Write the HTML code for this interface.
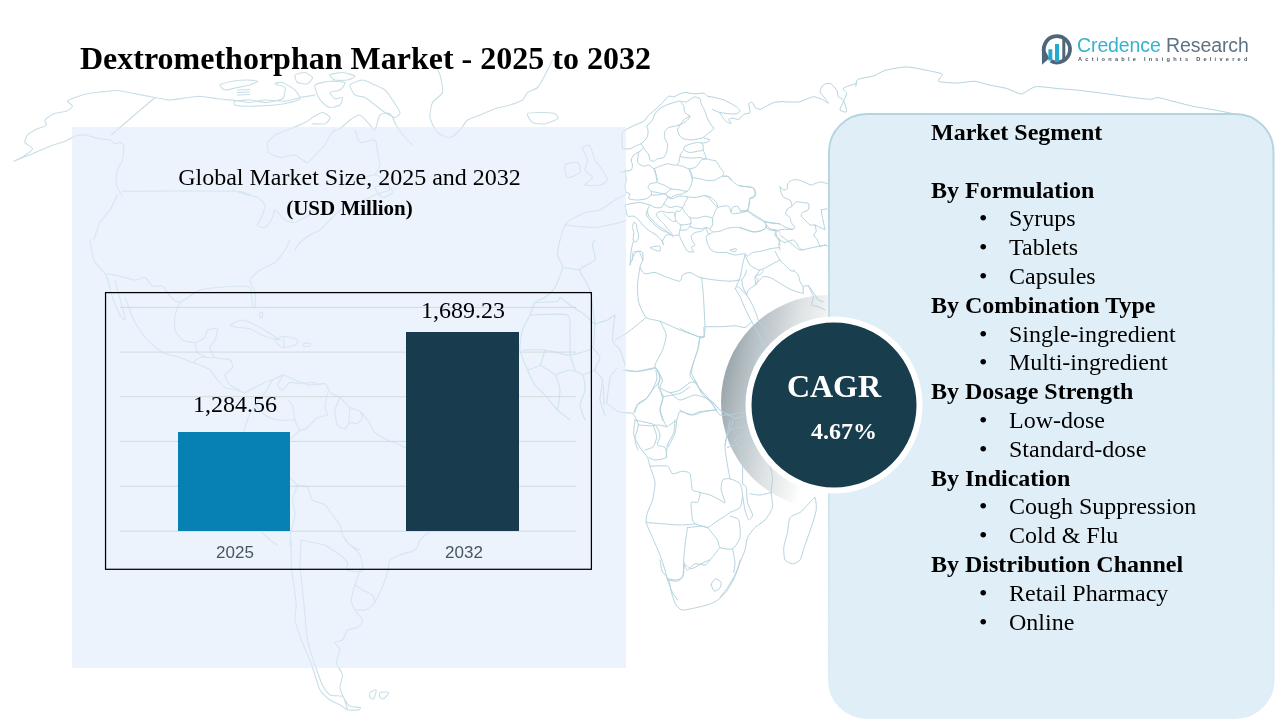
<!DOCTYPE html>
<html><head><meta charset="utf-8">
<style>
html,body{margin:0;padding:0;background:#fff;}
body{width:1280px;height:720px;overflow:hidden;position:relative;font-family:"Liberation Serif",serif;color:#000;}
.abs{position:absolute;}
div.abs{will-change:transform;}
#leftpanel{left:72px;top:127px;width:554px;height:541px;background:rgba(223,235,250,0.6);}
#title{left:80px;top:40px;font-weight:bold;font-size:32px;line-height:36px;white-space:nowrap;}
#sub1{left:72px;width:555px;top:163px;text-align:center;font-size:24px;line-height:28px;white-space:nowrap;}
#sub2{left:72px;width:555px;top:196px;text-align:center;font-size:21px;font-weight:bold;line-height:24px;white-space:nowrap;}
#chartbox{left:105px;top:292px;width:486px;height:276px;border:1px solid #000;box-sizing:content-box;}
.grid{left:120px;width:456px;height:1px;background:#d4dadd;}
.bar{}
.val{font-size:24px;line-height:24px;white-space:nowrap;text-align:center;width:140px;}
.cat{font-family:"Liberation Sans",sans-serif;font-size:17px;line-height:18px;color:#46565c;text-align:center;width:100px;white-space:nowrap;}
#seg{left:931px;top:118px;font-size:24px;line-height:28.8px;white-space:nowrap;}
#seg b{display:block;}
#seg span{display:block;padding-left:78px;position:relative;}
#seg span i{position:absolute;left:48px;font-style:normal;}
#cagr1{left:751px;width:166px;top:368px;text-align:center;color:#fff;font-weight:bold;font-size:32px;line-height:36px;}
#cagr2{left:761px;width:166px;top:418px;text-align:center;color:#fff;font-weight:bold;font-size:24px;line-height:26px;}
#lg1{left:1077px;top:32.5px;font-family:"Liberation Sans",sans-serif;font-size:19.5px;line-height:24px;letter-spacing:-0.1px;white-space:nowrap;}
#lg2{left:1078px;top:55px;font-family:"Liberation Sans",sans-serif;font-weight:bold;font-size:5.6px;line-height:8px;letter-spacing:3.25px;color:#4a5866;white-space:nowrap;}
</style></head><body>
<svg class="abs" id="map" style="left:0;top:0" width="1280" height="720" viewBox="0 0 1280 720" fill="none" stroke="#cfe2ea" stroke-width="1" stroke-linejoin="round" stroke-linecap="round">
<defs><linearGradient id="cres" gradientUnits="userSpaceOnUse" x1="721" y1="400" x2="816" y2="421"><stop offset="0" stop-color="#98a4aa" stop-opacity="0.95"/><stop offset="0.2" stop-color="#b1bbc0" stop-opacity="0.93"/><stop offset="0.45" stop-color="#c9d0d4" stop-opacity="0.9"/><stop offset="0.6" stop-color="#dadfe1" stop-opacity="0.88"/><stop offset="0.8" stop-color="#e9eced" stop-opacity="0.85"/><stop offset="0.93" stop-color="#f5f6f7" stop-opacity="0.8"/><stop offset="1" stop-color="#ffffff" stop-opacity="0.6"/></linearGradient><filter id="bl" x="-10%" y="-10%" width="120%" height="120%"><feGaussianBlur stdDeviation="0.6"/></filter></defs><circle cx="828" cy="402" r="107" stroke="none" fill="url(#cres)" filter="url(#bl)"/>
<!--MAP--><g stroke="#c8dee7" stroke-width="1.1"><path d="M13.8 161.2 C14.8 160.7 21.8 157.6 23.8 156.2 C25.8 154.9 32.4 150.2 32.5 148.8 C32.6 147.3 25.5 144.0 25.0 142.5 C24.5 141.0 26.2 136.5 27.5 135.0 C28.8 133.5 35.5 129.8 37.5 128.8 C39.5 127.7 45.5 126.4 46.2 125.5 C47.0 124.6 44.2 121.3 45.0 120.0 C45.8 118.7 51.5 114.7 53.8 113.8 C56.0 112.8 64.2 112.0 66.2 111.2 C68.2 110.5 72.4 107.3 72.5 106.2 C72.6 105.2 67.2 102.2 67.5 101.2 C67.8 100.3 72.9 98.3 75.0 97.5 C77.1 96.7 84.8 94.3 87.5 93.8 C90.2 93.2 96.8 92.3 100.0 92.0 C103.2 91.7 113.8 90.3 117.5 90.5 C121.2 90.7 131.0 93.0 135.0 93.8 C139.0 94.5 151.3 96.8 155.0 97.5 C158.7 98.2 166.8 99.9 170.0 100.0 C173.2 100.1 181.8 98.4 185.0 98.0 C188.2 97.6 196.5 96.2 200.0 96.2 C203.5 96.3 213.8 98.3 217.5 98.8 C221.2 99.2 231.5 100.1 235.0 100.5 C238.5 100.9 246.8 102.6 250.0 102.5 C253.2 102.4 261.3 100.1 265.0 100.0 C268.7 99.9 281.3 101.5 285.0 101.2 C288.7 101.0 296.8 98.2 300.0 97.5 C303.2 96.8 313.4 95.3 315.0 95.0 M13.8 161.2 C15.8 160.4 28.6 155.3 32.5 153.8 C36.4 152.2 46.5 147.6 50.0 146.2 C53.5 144.9 62.3 142.3 65.0 141.2 C67.7 140.2 72.9 136.9 75.0 136.2 C77.1 135.6 82.3 134.7 85.0 135.0 C87.7 135.3 97.3 138.2 100.0 138.8 C102.7 139.3 108.4 139.5 110.0 140.0 C111.6 140.5 113.9 143.5 115.0 143.8 C116.1 144.0 119.1 142.2 120.0 142.5 C120.9 142.8 123.5 144.4 123.8 146.2 C124.0 148.1 123.2 157.5 122.5 160.0 C121.8 162.5 118.2 167.3 117.5 170.0 C116.8 172.7 115.7 182.2 116.2 185.0 C116.8 187.8 121.8 195.1 122.5 196.2 M155.0 97.5 L111.2 135.0 M122.5 191.2 C134.5 191.2 221.4 190.8 235.0 191.2 C248.6 191.7 248.4 194.6 250.0 195.0 M117.5 195.0 C116.7 196.6 111.9 207.1 110.0 210.0 C108.1 212.9 101.7 219.3 100.0 222.5 C98.3 225.7 94.4 238.1 93.8 240.0 M220.0 85.0 C220.8 84.1 229.6 81.8 232.5 81.2 C235.4 80.7 244.8 80.0 247.5 80.0 C250.2 80.0 257.2 80.7 257.5 81.2 C257.8 81.8 252.1 84.3 250.0 85.0 C247.9 85.7 240.2 87.0 237.5 87.5 C234.8 88.0 226.9 90.3 225.0 90.0 C223.1 89.7 219.2 85.9 220.0 85.0 M235.0 101.2 C236.6 100.7 246.8 99.9 250.0 100.0 C253.2 100.1 261.5 102.6 265.0 102.5 C268.5 102.4 280.4 100.3 282.5 98.8 C284.6 97.2 285.8 89.1 285.0 87.5 C284.2 85.9 275.3 84.3 275.0 83.8 C274.7 83.2 280.4 81.8 282.5 82.5 C284.6 83.2 293.1 88.3 295.0 90.0 C296.9 91.7 300.5 97.4 300.0 98.8 C299.5 100.1 292.7 101.8 290.0 102.5 C287.3 103.2 279.3 104.6 275.0 105.0 C270.7 105.4 254.3 106.2 250.0 106.2 C245.7 106.2 236.6 105.5 235.0 105.0 C233.4 104.5 233.4 101.8 235.0 101.2 M237.5 90.0 L250.0 89.5 M237.5 92.5 L250.0 92.0 M237.5 95.0 L250.0 94.5 M315.0 85.0 C316.3 83.5 326.8 81.5 330.0 81.2 C333.2 81.0 343.9 81.6 345.0 82.5 C346.1 83.4 341.6 88.9 340.0 90.0 C338.4 91.1 330.5 91.6 330.0 92.5 C329.5 93.4 333.7 98.2 335.0 98.8 C336.3 99.3 342.0 96.8 342.5 97.5 C343.0 98.2 341.3 103.9 340.0 105.0 C338.7 106.1 331.9 107.8 330.0 107.5 C328.1 107.2 323.8 103.8 322.5 102.5 C321.2 101.2 318.3 96.9 317.5 95.0 C316.7 93.1 313.7 86.5 315.0 85.0 M350.0 85.0 C350.8 83.4 359.8 80.0 362.5 80.0 C365.2 80.0 372.6 83.9 375.0 85.0 C377.4 86.1 383.1 88.4 385.0 90.0 C386.9 91.6 390.9 97.6 392.5 100.0 C394.1 102.4 399.7 110.6 400.0 112.5 C400.3 114.4 396.6 117.5 395.0 117.5 C393.4 117.5 387.1 113.8 385.0 112.5 C382.9 111.2 377.1 106.6 375.0 105.0 C372.9 103.4 367.1 98.6 365.0 97.5 C362.9 96.4 356.6 96.3 355.0 95.0 C353.4 93.7 349.2 86.6 350.0 85.0 M295.0 75.0 C295.8 73.9 303.1 72.2 305.0 72.5 C306.9 72.8 312.2 76.3 312.5 77.5 C312.8 78.7 309.1 83.2 307.5 83.8 C305.9 84.3 298.8 83.4 297.5 82.5 C296.2 81.6 294.2 76.1 295.0 75.0 M330.0 75.0 C330.8 74.2 339.8 72.4 342.5 72.5 C345.2 72.6 354.5 75.5 355.0 76.2 C355.5 77.0 349.6 79.6 347.5 80.0 C345.4 80.4 336.9 80.5 335.0 80.0 C333.1 79.5 329.2 75.8 330.0 75.0 M267.5 142.5 C268.3 141.7 272.9 136.3 275.0 135.0 C277.1 133.7 284.3 131.3 287.5 130.0 C290.7 128.7 302.3 123.8 305.0 122.5 C307.7 121.2 310.6 118.6 312.5 117.5 C314.4 116.4 320.6 112.5 322.5 112.5 C324.4 112.5 329.7 116.3 330.0 117.5 C330.3 118.7 326.9 123.1 325.0 123.8 C323.1 124.4 313.8 123.8 312.5 123.8 M267.5 142.5 C267.6 143.6 267.4 150.9 268.8 152.5 C270.1 154.1 277.2 157.2 280.0 157.5 C282.8 157.8 292.1 154.5 295.0 155.0 C297.9 155.5 305.1 162.8 307.5 162.5 C309.9 162.2 315.6 154.4 317.5 152.5 C319.4 150.6 323.7 146.9 325.0 145.0 C326.3 143.1 328.9 136.6 330.0 135.0 C331.1 133.4 333.9 130.7 335.0 130.0 C336.1 129.3 338.4 129.8 340.0 128.8 C341.6 127.7 347.9 121.5 350.0 120.0 C352.1 118.5 357.9 114.5 360.0 115.0 C362.1 115.5 368.4 123.4 370.0 125.0 C371.6 126.6 373.9 131.1 375.0 130.0 C376.1 128.9 378.4 116.7 380.0 115.0 C381.6 113.3 388.1 112.4 390.0 113.8 C391.9 115.1 395.9 125.0 397.5 127.5 C399.1 130.0 403.4 135.6 405.0 137.5 C406.6 139.4 411.7 144.2 412.5 145.0 M355.0 130.0 C355.5 131.3 357.9 141.4 360.0 142.5 C362.1 143.6 373.1 138.9 375.0 140.0 C376.9 141.1 377.0 149.8 377.5 152.5 C378.0 155.2 380.3 162.6 380.0 165.0 C379.7 167.4 375.5 173.9 375.0 175.0 M232.5 190.0 C234.1 190.5 244.8 194.2 247.5 195.0 C250.2 195.8 255.6 196.4 257.5 197.5 C259.4 198.6 264.5 203.1 265.0 205.0 C265.5 206.9 263.3 212.9 262.5 215.0 C261.7 217.1 257.2 223.7 257.5 225.0 C257.8 226.3 263.4 228.3 265.0 227.5 C266.6 226.7 271.4 219.4 272.5 217.5 C273.6 215.6 273.7 209.7 275.0 210.0 C276.3 210.3 282.9 218.7 285.0 220.0 C287.1 221.3 292.9 222.8 295.0 222.5 C297.1 222.2 302.6 218.8 305.0 217.5 C307.4 216.2 316.2 210.8 317.5 210.0 M390.0 190.0 C388.4 190.5 378.2 193.7 375.0 195.0 C371.8 196.3 362.7 201.4 360.0 202.5 C357.3 203.6 352.1 204.2 350.0 205.0 C347.9 205.8 342.1 208.4 340.0 210.0 C337.9 211.6 332.1 217.9 330.0 220.0 C327.9 222.1 322.1 228.4 320.0 230.0 C317.9 231.6 312.1 233.7 310.0 235.0 C307.9 236.3 301.6 240.9 300.0 242.5 C298.4 244.1 295.5 249.2 295.0 250.0 M375.0 187.5 C375.5 186.2 385.6 184.5 387.5 185.0 C389.4 185.5 393.0 191.2 392.5 192.5 C392.0 193.8 384.4 198.0 382.5 197.5 C380.6 197.0 374.5 188.8 375.0 187.5 M340.0 187.5 C341.1 186.7 347.6 181.1 350.0 180.0 C352.4 178.9 359.8 178.0 362.5 177.5 C365.2 177.0 372.6 174.7 375.0 175.0 C377.4 175.3 383.4 178.4 385.0 180.0 C386.6 181.6 389.5 188.9 390.0 190.0 M432.5 60.0 C433.3 61.6 438.9 71.5 440.0 75.0 C441.1 78.5 443.3 89.6 442.5 92.5 C441.7 95.4 433.8 99.8 432.5 102.5 C431.2 105.2 429.5 114.3 430.0 117.5 C430.5 120.7 435.4 130.4 437.5 132.5 C439.6 134.6 447.6 137.8 450.0 137.5 C452.4 137.2 458.1 131.9 460.0 130.0 C461.9 128.1 465.4 121.6 467.5 120.0 C469.6 118.4 477.1 116.2 480.0 115.0 C482.9 113.8 491.8 109.8 495.0 108.8 C498.2 107.7 507.1 105.9 510.0 105.0 C512.9 104.1 520.6 101.3 522.5 100.0 C524.4 98.7 525.9 93.8 527.5 92.5 C529.1 91.2 535.6 89.4 537.5 87.5 C539.4 85.6 543.7 77.4 545.0 75.0 C546.3 72.6 549.2 66.6 550.0 65.0 C550.8 63.4 552.2 60.5 552.5 60.0 M527.5 113.8 C528.3 112.7 537.1 112.5 540.0 112.5 C542.9 112.5 553.1 113.1 555.0 113.8 C556.9 114.4 558.6 117.7 557.5 118.8 C556.4 119.8 547.7 123.3 545.0 123.8 C542.3 124.2 534.4 123.6 532.5 122.5 C530.6 121.4 526.7 114.8 527.5 113.8 M582.5 147.5 C582.8 146.0 588.7 144.9 590.0 146.2 C591.3 147.6 593.7 157.5 595.0 160.0 C596.3 162.5 601.2 167.9 602.5 170.0 C603.8 172.1 607.8 178.4 607.5 180.0 C607.2 181.6 602.4 184.5 600.0 185.0 C597.6 185.5 585.8 185.8 585.0 185.0 C584.2 184.2 592.5 179.1 592.5 177.5 C592.5 175.9 585.5 171.9 585.0 170.0 C584.5 168.1 587.8 162.4 587.5 160.0 C587.2 157.6 582.2 149.0 582.5 147.5 M565.0 165.0 C566.1 163.4 575.9 161.7 577.5 162.5 C579.1 163.3 581.1 170.9 580.0 172.5 C578.9 174.1 569.1 178.3 567.5 177.5 C565.9 176.7 563.9 166.6 565.0 165.0 M570.0 220.0 C571.6 219.2 581.8 213.6 585.0 212.5 C588.2 211.4 596.8 211.3 600.0 210.0 C603.2 208.7 612.3 201.6 615.0 200.0 C617.7 198.4 623.9 195.5 625.0 195.0 M560.0 240.0 C560.5 238.4 563.9 227.1 565.0 225.0 C566.1 222.9 569.5 220.5 570.0 220.0 M565.0 225.0 C568.2 225.3 589.1 227.8 595.0 227.5 C600.9 227.2 616.7 223.3 620.0 222.5 C623.3 221.7 625.6 220.3 626.2 220.0 M90.0 240.0 C90.4 242.1 92.2 256.4 93.8 260.0 C95.3 263.6 103.3 270.8 105.0 273.8 C106.7 276.7 109.5 286.0 110.0 287.5 M105.0 273.8 C106.6 274.0 116.8 275.6 120.0 276.2 C123.2 276.9 132.3 279.9 135.0 280.0 C137.7 280.1 143.1 276.8 145.0 277.5 C146.9 278.2 150.6 285.3 152.5 286.2 C154.4 287.2 160.4 284.9 162.5 286.2 C164.6 287.6 170.6 297.0 172.5 298.8 C174.4 300.5 179.2 302.1 180.0 302.5 M107.5 277.5 C108.0 279.6 111.2 293.5 112.5 297.5 C113.8 301.5 118.7 312.6 120.0 315.0 C121.3 317.4 124.7 320.8 125.0 320.0 C125.3 319.2 123.3 310.7 122.5 307.5 C121.7 304.3 118.3 292.9 117.5 290.0 C116.7 287.1 115.3 281.1 115.0 280.0 M125.0 297.5 C126.1 300.2 132.6 318.0 135.0 322.5 C137.4 327.0 144.6 336.8 147.5 340.0 C150.4 343.2 159.0 350.6 162.5 352.5 C166.0 354.4 176.8 356.4 180.0 357.5 C183.2 358.6 190.4 361.7 192.5 362.5 C194.6 363.3 198.1 364.2 200.0 365.0 C201.9 365.8 208.1 368.4 210.0 370.0 C211.9 371.6 215.9 378.1 217.5 380.0 C219.1 381.9 223.1 386.4 225.0 387.5 C226.9 388.6 232.9 389.5 235.0 390.0 C237.1 390.5 242.9 392.8 245.0 392.5 C247.1 392.2 253.9 388.0 255.0 387.5 M180.0 302.5 C179.5 303.8 175.5 312.1 175.0 315.0 C174.5 317.9 174.2 327.3 175.0 330.0 C175.8 332.7 180.4 338.7 182.5 340.0 C184.6 341.3 192.6 342.8 195.0 342.5 C197.4 342.2 203.7 338.8 205.0 337.5 C206.3 336.2 206.2 330.9 207.5 330.0 C208.8 329.1 216.7 327.7 217.5 328.8 C218.3 329.8 215.8 338.0 215.0 340.0 C214.2 342.0 210.0 345.6 210.0 347.5 C210.0 349.4 212.9 356.2 215.0 357.5 C217.1 358.8 228.1 358.9 230.0 360.0 C231.9 361.1 233.0 365.9 232.5 367.5 C232.0 369.1 225.3 373.1 225.0 375.0 C224.7 376.9 228.4 383.4 230.0 385.0 C231.6 386.6 238.9 389.5 240.0 390.0 M195.0 342.5 C195.3 343.6 196.2 350.9 197.5 352.5 C198.8 354.1 205.6 357.0 207.5 357.5 C209.4 358.0 214.2 357.5 215.0 357.5 M192.5 362.5 C193.3 362.0 198.4 358.0 200.0 357.5 C201.6 357.0 206.7 357.5 207.5 357.5 M180.0 302.5 C182.1 301.2 196.0 291.6 200.0 290.0 C204.0 288.4 213.5 287.9 217.5 287.5 C221.5 287.1 234.0 286.2 237.5 286.2 C241.0 286.2 248.4 285.5 250.0 287.5 C251.6 289.5 252.0 302.9 252.5 305.0 C253.0 307.1 254.7 308.8 255.0 307.5 C255.3 306.2 255.5 295.4 255.0 292.5 C254.5 289.6 249.5 282.4 250.0 280.0 C250.5 277.6 257.3 271.9 260.0 270.0 C262.7 268.1 272.3 264.6 275.0 262.5 C277.7 260.4 283.4 252.4 285.0 250.0 C286.6 247.6 289.5 241.1 290.0 240.0 M230.0 325.0 C230.5 324.2 239.6 319.9 242.5 320.0 C245.4 320.1 254.3 324.6 257.5 326.2 C260.7 327.9 270.1 333.5 272.5 335.0 C274.9 336.5 280.8 339.9 280.0 340.0 C279.2 340.1 268.2 337.4 265.0 336.2 C261.8 335.1 252.9 329.7 250.0 328.8 C247.1 327.8 239.6 327.9 237.5 327.5 C235.4 327.1 229.5 325.8 230.0 325.0 M275.0 340.0 C275.3 338.8 282.6 336.2 285.0 336.2 C287.4 336.2 296.4 339.1 297.5 340.0 C298.6 340.9 296.6 344.2 295.0 345.0 C293.4 345.8 284.6 348.0 282.5 347.5 C280.4 347.0 274.7 341.2 275.0 340.0 M283.8 337.0 L283.8 347.0 M303.8 343.8 C304.4 343.4 309.3 342.7 310.0 343.0 C310.7 343.3 310.7 345.9 310.0 346.2 C309.3 346.6 304.4 346.5 303.8 346.2 C303.1 346.0 303.1 344.1 303.8 343.8 M260.0 312.5 C260.3 312.0 262.2 312.0 262.5 312.5 C262.8 313.0 262.8 317.0 262.5 317.5 C262.2 318.0 260.3 318.0 260.0 317.5 C259.7 317.0 259.7 313.0 260.0 312.5 M255.0 387.5 C256.1 387.0 262.9 383.4 265.0 382.5 C267.1 381.6 273.1 379.4 275.0 378.8 C276.9 378.1 282.2 375.6 282.5 376.2 C282.8 376.9 277.5 383.5 277.5 385.0 C277.5 386.5 281.2 390.3 282.5 390.0 C283.8 389.7 288.1 383.2 290.0 382.5 C291.9 381.8 297.6 383.8 300.0 383.8 C302.4 383.8 310.4 382.4 312.5 382.5 C314.6 382.6 319.2 384.7 320.0 385.0 M272.5 380.0 C273.6 379.5 280.1 375.0 282.5 375.0 C284.9 375.0 292.1 378.9 295.0 380.0 C297.9 381.1 306.8 384.6 310.0 385.0 C313.2 385.4 322.9 382.9 325.0 383.8 C327.1 384.6 328.4 391.0 330.0 392.5 C331.6 394.0 337.9 395.9 340.0 397.5 C342.1 399.1 347.9 406.0 350.0 407.5 C352.1 409.0 358.1 409.9 360.0 411.2 C361.9 412.6 365.9 417.7 367.5 420.0 C369.1 422.3 372.9 430.4 375.0 432.5 C377.1 434.6 384.8 438.7 387.5 440.0 C390.2 441.3 398.1 444.2 400.0 445.0 C401.9 445.8 404.5 447.2 405.0 447.5 M327.5 393.8 C327.2 395.2 325.0 405.2 325.0 407.5 C325.0 409.8 328.3 413.9 327.5 415.0 C326.7 416.1 319.6 416.2 317.5 417.5 C315.4 418.8 309.4 426.2 307.5 427.5 C305.6 428.8 301.3 430.8 300.0 430.0 C298.7 429.2 295.8 422.7 295.0 420.0 C294.2 417.3 293.3 407.1 292.5 405.0 C291.7 402.9 288.0 400.5 287.5 400.0 M340.0 397.5 C339.5 398.8 335.3 407.1 335.0 410.0 C334.7 412.9 336.4 423.0 337.5 425.0 C338.6 427.0 343.7 429.0 345.0 428.8 C346.3 428.5 348.7 423.0 350.0 422.5 C351.3 422.0 356.2 424.3 357.5 423.8 C358.8 423.2 362.2 418.8 362.5 417.5 C362.8 416.2 360.3 411.9 360.0 411.2 M350.0 407.5 L348.8 422.5 M272.5 380.0 C271.7 381.3 266.9 389.8 265.0 392.5 C263.1 395.2 256.9 402.1 255.0 405.0 C253.1 407.9 248.8 416.8 247.5 420.0 C246.2 423.2 243.8 431.8 242.5 435.0 C241.2 438.2 236.9 447.3 235.0 450.0 C233.1 452.7 226.3 457.9 225.0 460.0 C223.7 462.1 222.0 467.6 222.5 470.0 C223.0 472.4 228.1 479.3 230.0 482.5 C231.9 485.7 237.9 496.5 240.0 500.0 C242.1 503.5 247.9 511.8 250.0 515.0 C252.1 518.2 257.9 527.3 260.0 530.0 C262.1 532.7 268.1 538.4 270.0 540.0 C271.9 541.6 276.7 544.5 277.5 545.0 M297.5 485.0 C298.6 485.3 305.9 485.9 307.5 487.5 C309.1 489.1 310.6 498.1 312.5 500.0 C314.4 501.9 322.9 503.4 325.0 505.0 C327.1 506.6 330.9 512.9 332.5 515.0 C334.1 517.1 338.9 522.9 340.0 525.0 C341.1 527.1 341.4 532.9 342.5 535.0 C343.6 537.1 348.1 543.4 350.0 545.0 C351.9 546.6 358.9 549.5 360.0 550.0 M297.5 485.0 C297.0 486.6 292.8 496.8 292.5 500.0 C292.2 503.2 295.1 511.8 295.0 515.0 C294.9 518.2 291.8 526.8 291.2 530.0 C290.7 533.2 290.1 543.4 290.0 545.0 M255.0 405.0 C256.1 406.1 262.6 413.4 265.0 415.0 C267.4 416.6 274.3 419.5 277.5 420.0 C280.7 420.5 293.1 420.0 295.0 420.0 M235.0 450.0 C236.6 450.3 246.8 453.0 250.0 452.5 C253.2 452.0 262.1 445.3 265.0 445.0 C267.9 444.7 273.8 451.6 277.5 450.0 C281.2 448.4 297.6 432.1 300.0 430.0 M277.5 450.0 C278.0 452.1 280.4 466.3 282.5 470.0 C284.6 473.7 295.9 483.4 297.5 485.0 M291.2 540.0 C291.2 542.7 291.0 560.2 291.2 565.0 C291.5 569.8 293.2 580.7 293.8 585.0 C294.3 589.3 296.1 601.3 296.2 605.0 C296.4 608.7 294.5 616.3 295.0 620.0 C295.5 623.7 299.8 636.0 301.2 640.0 C302.7 644.0 307.3 653.8 308.8 657.5 C310.2 661.2 313.8 671.5 315.0 675.0 C316.2 678.5 318.4 687.3 320.0 690.0 C321.6 692.7 327.9 698.4 330.0 700.0 C332.1 701.6 338.1 703.9 340.0 705.0 C341.9 706.1 346.7 709.5 347.5 710.0 M301.2 540.0 C301.1 542.7 299.9 559.7 300.0 565.0 C300.1 570.3 302.0 584.7 302.5 590.0 C303.0 595.3 304.5 609.7 305.0 615.0 C305.5 620.3 306.4 634.7 307.5 640.0 C308.6 645.3 313.4 660.2 315.0 665.0 C316.6 669.8 320.9 681.8 322.5 685.0 C324.1 688.2 327.9 693.8 330.0 695.0 C332.1 696.2 340.8 695.2 342.5 696.2 C344.2 697.3 345.7 703.5 346.2 705.0 C346.8 706.5 347.4 709.5 347.5 710.0 M420.0 540.0 C419.5 541.1 417.1 548.4 415.0 550.0 C412.9 551.6 402.7 553.9 400.0 555.0 C397.3 556.1 391.3 558.1 390.0 560.0 C388.7 561.9 388.6 569.0 387.5 572.5 C386.4 576.0 381.6 589.0 380.0 592.5 C378.4 596.0 374.1 603.1 372.5 605.0 C370.9 606.9 366.9 609.5 365.0 610.0 C363.1 610.5 355.3 608.9 355.0 610.0 C354.7 611.1 362.2 618.1 362.5 620.0 C362.8 621.9 359.1 626.4 357.5 627.5 C355.9 628.6 349.1 628.7 347.5 630.0 C345.9 631.3 343.8 638.7 342.5 640.0 C341.2 641.3 335.3 641.4 335.0 642.5 C334.7 643.6 339.9 647.9 340.0 650.0 C340.1 652.1 336.0 659.8 336.2 662.5 C336.5 665.2 342.1 672.3 342.5 675.0 C342.9 677.7 339.7 684.8 340.0 687.5 C340.3 690.2 343.9 698.0 345.0 700.0 C346.1 702.0 348.4 705.5 350.0 706.2 C351.6 707.0 359.1 707.1 360.0 707.5 C360.9 707.9 360.1 709.7 358.8 710.0 C357.4 710.3 348.7 710.0 347.5 710.0 M355.0 585.0 C355.8 585.5 360.6 588.9 362.5 590.0 C364.4 591.1 371.2 593.7 372.5 595.0 C373.8 596.3 374.7 601.7 375.0 602.5 M355.0 585.0 C354.6 586.6 351.2 597.3 351.2 600.0 C351.2 602.7 354.6 608.9 355.0 610.0 M325.0 545.0 C326.6 546.1 337.6 553.1 340.0 555.0 C342.4 556.9 346.7 560.9 347.5 562.5 C348.3 564.1 345.9 569.1 347.5 570.0 C349.1 570.9 361.2 572.9 362.5 571.2 C363.8 569.6 361.3 557.8 360.0 555.0 C358.7 552.2 351.6 546.6 350.0 545.0 C348.4 543.4 345.5 540.5 345.0 540.0 M360.0 570.0 L355.0 585.0 M301.2 540.0 C302.4 540.3 310.0 542.0 312.5 542.5 C315.0 543.0 323.7 544.7 325.0 545.0 M370.0 692.5 C370.7 691.7 375.9 689.3 376.2 690.0 C376.6 690.7 374.4 698.0 373.8 698.8 C373.1 699.5 370.4 698.2 370.0 697.5 C369.6 696.8 369.3 693.3 370.0 692.5 M380.0 692.5 C380.9 692.0 388.4 691.8 388.8 692.5 C389.1 693.2 384.7 698.2 383.8 698.8 C382.8 699.3 380.4 698.2 380.0 697.5 C379.6 696.8 379.1 693.0 380.0 692.5 M405.0 447.0 C406.6 447.9 416.3 452.5 420.0 455.0 C423.7 457.5 436.3 466.3 440.0 470.0 C443.7 473.7 453.9 485.7 455.0 490.0 C456.1 494.3 451.6 506.3 450.0 510.0 C448.4 513.7 442.7 522.3 440.0 525.0 C437.3 527.7 427.1 533.4 425.0 535.0 C422.9 536.6 420.5 539.5 420.0 540.0"/></g>
<g stroke="#b9d6e0" stroke-width="1.1"><path d="M560.0 240.0 C559.7 241.6 557.2 252.1 557.5 255.0 C557.8 257.9 562.8 264.0 562.5 267.5 C562.2 271.0 556.9 284.3 555.0 287.5 C553.1 290.7 547.1 295.9 545.0 297.5 C542.9 299.1 536.6 300.6 535.0 302.5 C533.4 304.4 531.3 312.1 530.0 315.0 C528.7 317.9 523.6 326.3 522.5 330.0 C521.4 333.7 519.5 345.7 520.0 350.0 C520.5 354.3 525.9 366.3 527.5 370.0 C529.1 373.7 533.1 382.3 535.0 385.0 C536.9 387.7 542.6 392.3 545.0 395.0 C547.4 397.7 554.8 407.3 557.5 410.0 C560.2 412.7 568.7 418.9 570.0 420.0 M535.0 302.5 C537.4 302.4 554.8 301.8 557.5 301.2 C560.2 300.7 558.7 297.1 560.0 297.5 C561.3 297.9 567.3 303.1 570.0 305.0 C572.7 306.9 582.3 312.9 585.0 315.0 C587.7 317.1 593.9 323.9 595.0 325.0 M530.0 315.0 C534.0 315.0 563.2 312.9 567.5 315.0 C571.8 317.1 569.7 330.7 570.0 335.0 C570.3 339.3 570.0 352.9 570.0 355.0 M522.5 350.0 C524.9 350.0 539.9 349.5 545.0 350.0 C550.1 350.5 564.9 355.3 570.0 355.0 C575.1 354.7 589.8 350.7 592.5 347.5 C595.2 344.3 593.4 327.9 595.0 325.0 C596.6 322.1 605.4 321.1 607.5 320.0 C609.6 318.9 614.2 315.5 615.0 315.0 M527.5 370.0 C528.8 369.5 538.1 367.1 540.0 365.0 C541.9 362.9 544.5 351.6 545.0 350.0 M540.0 365.0 C541.6 366.1 552.9 372.3 555.0 375.0 C557.1 377.7 559.7 386.3 560.0 390.0 C560.3 393.7 557.8 407.9 557.5 410.0 M555.0 375.0 C556.6 374.5 567.1 370.0 570.0 370.0 C572.9 370.0 580.9 372.9 582.5 375.0 C584.1 377.1 585.3 386.8 585.0 390.0 C584.7 393.2 580.0 401.8 580.0 405.0 C580.0 408.2 584.5 418.4 585.0 420.0 M570.0 355.0 L575.0 370.0 M592.5 347.5 C593.3 348.6 599.7 355.1 600.0 357.5 C600.3 359.9 594.7 367.6 595.0 370.0 C595.3 372.4 602.0 376.8 602.5 380.0 C603.0 383.2 599.7 396.3 600.0 400.0 C600.3 403.7 604.5 413.4 605.0 415.0 M582.5 375.0 L595.0 370.0 M615.0 315.0 C614.7 317.7 612.0 336.3 612.5 340.0 C613.0 343.7 618.7 347.3 620.0 350.0 C621.3 352.7 624.5 363.4 625.0 365.0 M595.0 325.0 C594.5 321.3 591.6 295.9 590.0 290.0 C588.4 284.1 579.5 273.2 580.0 270.0 C580.5 266.8 593.7 262.7 595.0 260.0 C596.3 257.3 592.5 247.1 592.5 245.0 C592.5 242.9 594.7 240.5 595.0 240.0 M562.5 267.5 L580.0 270.0"/></g>
<g stroke="#b4d3de" stroke-width="1"><path d="M622.5 148.8 C622.4 147.8 621.9 141.7 621.9 140.0 C621.9 138.3 621.9 133.7 622.5 132.5 C623.1 131.3 626.2 129.6 627.5 128.8 C628.8 128.0 633.3 125.8 635.0 125.0 C636.7 124.2 642.3 122.3 643.8 121.2 C645.2 120.2 647.4 116.3 648.8 115.0 C650.1 113.7 654.8 110.1 656.2 108.8 C657.7 107.4 661.2 103.8 662.5 102.5 C663.8 101.2 667.5 96.8 668.8 96.2 C670.0 95.7 672.5 97.1 673.8 96.9 C675.0 96.6 678.8 94.2 680.0 93.8 C681.2 93.3 683.4 92.5 685.0 92.5 C686.6 92.5 693.0 93.7 695.0 93.8 C697.0 93.8 702.4 92.9 703.8 93.1 C705.1 93.4 706.3 95.8 707.5 96.2 C708.7 96.7 713.3 97.1 715.0 97.5 C716.7 97.9 722.0 99.3 723.8 100.0 C725.5 100.7 729.8 103.0 731.2 103.8 C732.7 104.5 736.6 106.7 737.5 107.5 C738.4 108.3 740.1 110.6 740.0 111.2 C739.9 111.9 737.5 113.5 736.2 113.8 C735.0 114.0 730.5 113.9 728.8 113.8 C727.0 113.6 721.5 112.8 720.0 112.5 C718.5 112.2 715.8 111.0 715.0 110.6 C714.2 110.3 712.8 109.5 712.5 109.4 M720.0 113.1 C720.4 113.7 723.0 117.8 723.8 118.8 C724.5 119.8 726.7 122.0 727.5 122.5 C728.3 123.0 731.1 123.5 731.2 123.1 C731.4 122.8 728.6 119.9 728.8 119.4 C728.9 118.8 731.4 118.1 732.5 118.1 C733.6 118.1 737.5 119.8 738.8 119.4 C740.0 119.0 742.5 115.1 743.8 114.4 C745.0 113.6 749.5 113.6 750.0 112.5 C750.5 111.4 748.5 104.8 748.8 103.8 C749.0 102.7 751.8 102.1 752.5 102.5 C753.2 102.9 754.2 106.8 755.0 107.5 C755.8 108.2 758.8 109.5 760.0 109.4 C761.2 109.2 764.8 107.0 766.2 106.2 C767.7 105.5 772.3 103.0 773.8 102.5 C775.2 102.0 779.3 101.9 780.0 101.9 M622.5 148.8 C623.3 148.8 628.4 149.2 630.0 148.8 C631.6 148.3 636.3 145.5 637.5 145.0 C638.7 144.5 640.5 144.3 641.2 143.8 C642.0 143.2 644.3 140.8 645.0 140.0 C645.7 139.2 647.2 137.3 647.5 136.2 C647.8 135.2 648.2 131.1 648.1 130.0 C648.1 128.9 646.4 127.3 646.9 126.2 C647.3 125.2 651.6 121.3 652.5 120.0 C653.4 118.7 654.1 115.1 655.0 113.8 C655.9 112.4 659.6 108.6 661.2 107.5 C662.9 106.4 668.1 104.4 670.0 103.8 C671.9 103.1 677.0 101.5 678.8 101.2 C680.5 101.0 684.9 102.1 686.2 101.9 C687.6 101.6 690.3 99.3 691.2 98.8 C692.2 98.2 694.1 96.9 695.0 96.9 C695.9 96.9 699.3 98.0 700.0 98.8 C700.7 99.5 700.7 102.4 701.2 103.8 C701.8 105.1 704.3 109.7 705.0 111.2 C705.7 112.8 706.8 117.3 707.5 118.8 C708.2 120.2 710.6 123.9 711.2 125.0 C711.9 126.1 714.1 127.8 713.8 128.8 C713.4 129.7 708.6 132.8 707.5 133.8 C706.4 134.7 703.5 136.8 703.8 137.5 C704.0 138.2 709.7 139.5 710.0 140.0 C710.3 140.5 707.2 142.2 706.2 142.5 C705.3 142.8 701.8 143.1 701.2 143.1 M681.2 102.5 C681.5 102.9 683.4 105.2 683.8 106.2 C684.1 107.3 684.3 111.4 685.0 112.5 C685.7 113.6 689.7 115.5 690.0 116.2 C690.3 117.0 688.3 119.2 687.5 120.0 C686.7 120.8 683.8 123.1 682.5 123.8 C681.2 124.4 676.5 125.8 675.0 126.2 C673.5 126.7 669.8 127.0 668.8 127.5 C667.7 128.0 665.5 130.2 665.0 131.2 C664.5 132.3 664.1 136.2 664.4 137.5 C664.6 138.8 667.2 142.3 667.5 143.8 C667.8 145.2 667.3 149.8 666.9 151.2 C666.5 152.7 664.8 156.7 663.8 157.5 C662.8 158.3 658.6 158.3 657.5 158.8 C656.4 159.2 654.5 161.1 653.8 161.2 C653.0 161.4 650.5 160.7 650.0 160.0 C649.5 159.3 649.3 156.1 648.8 155.0 C648.2 153.9 645.7 150.9 645.0 150.0 C644.3 149.1 642.9 146.9 642.5 146.2 C642.1 145.6 641.4 144.0 641.2 143.8 M690.0 116.2 C689.5 116.5 686.1 117.8 685.0 118.8 C683.9 119.7 680.8 123.8 680.0 125.0 C679.2 126.2 677.5 128.8 677.5 130.0 C677.5 131.2 679.3 135.3 680.0 136.2 C680.7 137.2 682.5 138.3 683.8 138.8 C685.0 139.2 689.6 140.0 691.2 140.0 C692.9 140.0 697.4 139.0 698.8 138.8 C700.1 138.5 703.2 137.6 703.8 137.5 M683.8 150.0 C683.2 149.3 684.2 146.9 685.0 146.2 C685.8 145.6 689.9 144.2 691.2 143.8 C692.6 143.3 696.3 142.5 697.5 142.5 C698.7 142.5 701.9 142.9 702.5 143.8 C703.1 144.6 703.7 149.2 703.1 150.0 C702.6 150.8 698.9 151.0 697.5 151.2 C696.1 151.5 691.5 152.6 690.0 152.5 C688.5 152.4 684.3 150.7 683.8 150.0 M682.5 151.2 C682.2 151.8 679.7 155.6 680.0 156.2 C680.3 156.9 683.7 157.3 685.0 157.5 C686.3 157.7 690.9 158.1 692.5 158.1 C694.1 158.1 698.5 157.4 700.0 157.5 C701.5 157.6 705.9 159.6 706.2 158.8 C706.6 157.9 703.5 150.9 703.1 150.0 M680.0 156.2 C679.9 156.9 679.0 161.6 678.8 162.5 C678.5 163.4 677.1 164.6 677.5 165.0 C677.9 165.4 681.3 165.8 682.5 166.2 C683.7 166.7 687.4 168.6 688.8 168.8 C690.1 168.9 693.9 168.0 695.0 167.5 C696.1 167.0 698.1 164.6 698.8 163.8 C699.4 162.9 700.5 160.5 701.2 160.0 C702.0 159.5 705.7 158.9 706.2 158.8 M706.2 158.8 C706.8 158.9 710.2 159.7 711.2 160.0 C712.3 160.3 715.3 160.4 716.2 161.2 C717.2 162.1 719.2 166.3 720.0 167.5 C720.8 168.7 723.5 171.6 723.8 172.5 C724.0 173.4 722.1 175.8 722.5 176.2 C722.9 176.7 726.6 175.8 727.5 176.2 C728.4 176.7 730.9 179.6 731.2 180.0 M620.0 172.5 C620.5 172.4 623.8 171.5 625.0 171.2 C626.2 171.0 630.5 170.7 631.2 170.0 C632.0 169.3 632.5 166.1 632.5 165.0 C632.5 163.9 631.1 161.1 631.2 160.0 C631.4 158.9 632.8 155.9 633.8 155.0 C634.7 154.1 639.1 151.9 640.0 151.2 C640.9 150.6 642.2 149.0 642.5 148.8 M638.8 152.5 C638.6 153.3 637.5 158.8 637.5 160.0 C637.5 161.2 638.1 163.1 638.8 163.8 C639.4 164.4 642.7 166.1 643.8 166.2 C644.8 166.4 647.7 164.7 648.8 165.0 C649.8 165.3 653.2 168.3 653.8 168.8 M653.8 168.8 C654.4 168.5 658.5 166.8 660.0 166.2 C661.5 165.7 666.0 163.9 667.5 163.8 C669.0 163.6 672.7 164.9 673.8 165.0 C674.8 165.1 677.1 165.0 677.5 165.0 M653.8 168.8 C654.0 169.4 655.9 173.8 656.2 175.0 C656.6 176.2 657.4 179.5 657.5 180.0 M688.8 168.8 C689.0 169.4 690.9 173.8 691.2 175.0 C691.6 176.2 692.4 179.5 692.5 180.0 M655.0 170.0 C655.1 170.7 656.0 174.9 656.2 176.2 C656.5 177.6 656.7 181.6 657.5 182.5 C658.3 183.4 662.3 184.3 663.8 185.0 C665.2 185.7 669.5 188.2 671.2 188.8 C673.0 189.3 678.3 189.7 680.0 190.0 C681.7 190.3 686.3 191.8 687.5 191.2 C688.7 190.7 690.7 186.5 691.2 185.0 C691.8 183.5 692.6 179.1 692.5 177.5 C692.4 175.9 690.3 170.8 690.0 170.0 M657.5 182.5 C656.7 182.6 651.0 183.2 650.0 183.8 C649.0 184.3 648.0 186.7 648.1 187.5 C648.3 188.3 650.2 190.7 651.2 191.2 C652.2 191.8 656.0 192.2 657.5 192.5 C659.0 192.8 663.5 194.2 665.0 193.8 C666.5 193.3 670.6 189.3 671.2 188.8 M625.0 170.0 C625.1 171.1 626.2 178.3 626.2 180.0 C626.2 181.7 625.0 184.9 625.0 186.2 C625.0 187.6 625.7 191.7 626.2 192.5 C626.8 193.3 629.7 193.1 630.0 193.8 C630.3 194.4 628.0 198.1 628.8 198.8 C629.5 199.4 635.6 200.0 637.5 200.0 C639.4 200.0 644.8 199.3 646.2 198.8 C647.7 198.2 650.7 195.8 651.2 195.0 C651.8 194.2 651.2 191.7 651.2 191.2 M651.2 195.0 C651.9 195.0 656.0 195.1 657.5 195.0 C659.0 194.9 663.9 193.5 665.0 193.8 C666.1 194.0 667.6 196.4 667.5 197.5 C667.4 198.6 664.4 202.7 663.8 203.8 C663.1 204.8 662.2 207.1 661.2 207.5 C660.3 207.9 656.2 207.8 655.0 207.5 C653.8 207.2 651.6 205.5 650.0 205.0 C648.4 204.5 642.1 202.6 640.0 202.5 C637.9 202.4 631.6 203.5 630.0 203.8 C628.4 204.0 625.5 204.9 625.0 205.0 M665.0 193.8 C665.5 194.2 668.8 197.4 670.0 197.5 C671.2 197.6 674.9 195.4 676.2 195.0 C677.6 194.6 681.3 194.2 682.5 193.8 C683.7 193.3 687.0 191.5 687.5 191.2 M667.5 197.5 C668.0 197.6 671.3 198.9 672.5 198.8 C673.7 198.6 677.1 196.4 678.8 196.2 C680.4 196.1 686.8 196.2 687.5 196.9 C688.2 197.5 685.5 201.4 685.0 202.5 C684.5 203.6 683.4 207.1 682.5 207.5 C681.6 207.9 677.6 206.2 676.2 206.2 C674.9 206.2 671.3 207.8 670.0 207.5 C668.7 207.2 664.4 204.2 663.8 203.8 M692.5 177.5 C693.3 177.6 698.4 178.4 700.0 178.8 C701.6 179.1 705.9 180.5 707.5 180.6 C709.1 180.8 713.4 180.5 715.0 180.0 C716.6 179.5 721.0 176.6 722.5 176.2 C724.0 175.9 727.7 176.3 728.8 176.9 C729.8 177.4 731.6 180.4 732.5 181.2 C733.4 182.1 736.3 184.5 737.5 185.0 C738.7 185.5 742.1 186.0 743.8 186.2 C745.4 186.5 751.3 186.8 752.5 187.5 C753.7 188.2 754.9 191.4 755.0 192.5 C755.1 193.6 754.3 196.8 753.8 197.5 C753.2 198.2 750.5 197.9 750.0 198.8 C749.5 199.6 749.0 203.7 748.8 205.0 C748.5 206.3 748.4 210.7 747.5 211.2 C746.6 211.8 741.1 210.5 740.0 210.0 C738.9 209.5 738.3 206.5 737.5 206.2 C736.7 206.0 733.2 206.8 732.5 207.5 C731.8 208.2 731.4 212.0 731.2 212.5 M687.5 196.9 C688.3 196.9 693.1 197.6 695.0 197.5 C696.9 197.4 703.3 195.6 705.0 195.6 C706.7 195.6 710.0 196.8 711.2 197.5 C712.5 198.2 715.6 201.4 716.2 202.5 C716.9 203.6 717.6 206.6 717.5 207.5 C717.4 208.4 715.5 210.2 715.0 211.2 C714.5 212.3 713.6 217.0 712.5 217.5 C711.4 218.0 706.6 216.2 705.0 216.2 C703.4 216.3 699.1 218.0 697.5 218.1 C695.9 218.3 691.3 218.1 690.0 217.5 C688.7 216.9 685.8 213.6 685.0 212.5 C684.2 211.4 682.8 208.0 682.5 207.5 M705.0 195.6 C705.5 196.0 709.1 197.9 710.0 198.8 C710.9 199.6 713.0 202.8 713.8 203.8 C714.5 204.7 717.1 207.1 717.5 207.5 M717.5 207.5 C718.0 207.4 721.3 206.4 722.5 206.2 C723.7 206.1 727.8 205.6 728.8 206.2 C729.7 206.9 730.7 211.7 731.2 212.5 C731.8 213.3 732.5 213.8 733.8 213.8 C735.0 213.8 741.0 212.8 742.5 212.5 C744.0 212.2 746.4 211.1 747.5 211.2 C748.6 211.4 751.3 213.1 752.5 213.8 C753.7 214.4 757.5 216.7 758.8 217.5 C760.0 218.3 763.0 220.4 763.8 221.2 C764.5 222.1 766.1 224.2 766.2 225.0 C766.4 225.8 765.7 228.1 765.0 228.8 C764.3 229.4 761.3 230.9 760.0 231.2 C758.7 231.6 754.0 232.0 752.5 231.9 C751.0 231.7 747.7 230.5 746.2 230.0 C744.8 229.5 740.2 227.8 738.8 227.5 C737.3 227.2 733.8 227.4 732.5 227.5 C731.2 227.6 727.6 228.3 726.2 228.8 C724.9 229.2 721.5 230.9 720.0 231.2 C718.5 231.6 713.6 232.1 712.5 231.9 C711.4 231.6 710.0 229.5 710.0 228.8 C710.0 228.0 712.2 226.2 712.5 225.0 C712.8 223.8 712.5 218.3 712.5 217.5 M763.8 221.2 C764.4 221.4 768.3 222.2 770.0 222.5 C771.7 222.8 778.9 223.6 780.0 223.8 M766.2 225.0 C766.6 225.4 768.9 228.2 770.0 228.8 C771.1 229.3 775.2 229.6 776.2 230.0 C777.3 230.4 779.6 232.2 780.0 232.5 M690.0 217.5 C690.1 218.0 691.2 221.6 691.2 222.5 C691.2 223.4 689.6 225.7 690.0 226.2 C690.4 226.8 693.8 227.9 695.0 228.1 C696.2 228.4 700.0 228.8 701.2 228.8 C702.5 228.7 705.3 227.5 706.2 227.5 C707.2 227.5 709.6 228.6 710.0 228.8 M682.5 207.5 C682.2 207.9 680.7 210.8 680.0 211.2 C679.3 211.7 676.8 210.7 676.2 211.2 C675.7 211.8 675.0 215.2 675.0 216.2 C675.0 217.3 675.6 220.3 676.2 221.2 C676.9 222.2 679.8 224.7 681.2 225.0 C682.7 225.3 688.9 224.0 690.0 223.8 C691.1 223.5 691.1 222.6 691.2 222.5 M650.0 205.0 C649.7 205.5 647.6 208.8 647.5 210.0 C647.4 211.2 648.1 215.1 648.8 216.2 C649.4 217.4 652.7 220.2 653.8 221.2 C654.8 222.3 657.5 225.3 658.8 226.2 C660.0 227.2 663.8 229.2 665.0 230.0 C666.2 230.8 669.2 233.1 670.0 233.8 C670.8 234.4 672.4 236.4 672.5 236.2 C672.6 236.1 671.8 233.3 671.2 232.5 C670.7 231.7 668.3 229.7 667.5 228.8 C666.7 227.8 664.7 224.8 663.8 223.8 C662.8 222.7 659.5 219.8 658.8 218.8 C658.0 217.7 656.0 214.6 656.2 213.8 C656.5 212.9 660.0 211.4 661.2 211.2 C662.5 211.1 666.2 212.4 667.5 212.5 C668.8 212.6 673.0 212.1 673.8 212.5 C674.5 212.9 674.9 215.8 675.0 216.2 M663.8 213.8 C664.1 214.2 666.6 216.7 667.5 217.5 C668.4 218.3 671.6 220.8 672.5 221.2 C673.4 221.7 675.9 221.2 676.2 221.2 M672.5 236.2 C673.2 236.1 677.8 234.6 678.8 235.0 C679.7 235.4 680.7 238.9 681.2 240.0 C681.8 241.1 683.1 243.8 683.8 245.0 C684.4 246.2 686.4 250.5 687.5 251.2 C688.6 252.0 693.4 252.3 693.8 251.9 C694.1 251.5 691.1 248.2 691.2 247.5 C691.4 246.8 694.9 245.7 695.0 245.0 C695.1 244.3 692.9 242.2 692.5 241.2 C692.1 240.3 691.0 237.2 691.2 236.2 C691.5 235.3 693.9 233.0 695.0 232.5 C696.1 232.0 700.0 231.8 701.2 231.2 C702.5 230.7 705.7 227.9 706.2 227.5 M681.2 225.0 C681.1 225.5 680.3 228.9 680.0 230.0 C679.7 231.1 678.9 234.5 678.8 235.0 M680.0 230.0 C680.7 230.0 685.2 230.4 686.2 230.0 C687.3 229.6 689.6 226.7 690.0 226.2 M706.2 227.5 C706.4 228.0 707.1 231.8 707.5 232.5 C707.9 233.2 709.5 233.8 710.0 233.8 C710.5 233.7 712.2 232.1 712.5 231.9 M710.0 233.8 C709.6 234.0 706.5 235.2 706.2 236.2 C706.0 237.3 707.0 242.3 707.5 243.8 C708.0 245.2 710.2 249.1 711.2 250.0 C712.3 250.9 715.9 252.2 717.5 252.5 C719.1 252.8 724.4 252.2 726.2 252.5 C728.1 252.8 733.0 254.9 735.0 255.0 C737.0 255.1 743.7 253.6 745.0 253.8 C746.3 253.9 746.7 256.4 747.5 256.2 C748.3 256.1 751.0 253.0 752.5 252.5 C754.0 252.0 759.4 251.7 761.2 251.2 C763.1 250.8 768.0 249.2 770.0 248.8 C772.0 248.3 778.9 247.6 780.0 247.5 M776.2 230.0 C776.1 230.5 774.7 233.9 775.0 235.0 C775.3 236.1 778.2 238.9 778.8 240.0 C779.3 241.1 779.9 244.5 780.0 245.0 M625.0 205.0 C625.1 205.7 626.0 210.1 626.2 211.2 C626.5 212.4 626.7 215.7 627.5 216.2 C628.3 216.8 632.5 215.8 633.8 216.2 C635.0 216.7 637.7 218.9 638.8 220.0 C639.8 221.1 642.5 225.1 643.8 226.2 C645.0 227.4 648.7 230.3 650.0 231.2 C651.3 232.2 655.0 234.1 656.2 235.0 C657.5 235.9 660.5 238.9 661.2 240.0 C662.0 241.1 663.6 244.9 663.8 245.0 C663.9 245.1 662.2 242.3 662.5 241.2 C662.8 240.2 665.3 235.7 666.2 235.0 C667.2 234.3 671.1 235.3 671.2 235.0 C671.4 234.7 668.6 233.0 667.5 232.5 C666.4 232.0 662.6 230.8 661.2 230.0 C659.9 229.2 656.2 226.1 655.0 225.0 C653.8 223.9 650.9 221.1 650.0 220.0 C649.1 218.9 646.5 216.1 646.2 215.0 C646.0 213.9 647.4 210.5 647.5 210.0 M633.8 222.5 C634.1 222.1 635.9 223.1 636.2 223.8 C636.6 224.4 636.6 227.4 636.9 228.8 C637.1 230.1 638.8 234.8 638.8 236.2 C638.7 237.7 636.9 241.5 636.2 241.9 C635.6 242.3 633.4 241.0 633.1 240.0 C632.9 239.0 633.8 233.8 633.8 232.5 C633.7 231.2 632.5 228.6 632.5 227.5 C632.5 226.4 633.4 222.9 633.8 222.5 M650.0 247.5 C650.1 247.1 655.2 246.4 656.2 246.2 C657.3 246.1 659.6 245.7 660.0 246.2 C660.4 246.8 660.5 250.8 660.0 251.2 C659.5 251.7 656.1 250.4 655.0 250.0 C653.9 249.6 649.9 247.9 650.0 247.5 M632.5 260.0 C632.6 259.2 632.5 253.4 633.1 252.5 C633.8 251.6 637.8 251.2 638.8 251.2 C639.8 251.2 642.0 251.6 642.5 252.5 C643.0 253.4 643.1 259.2 643.1 260.0 M780.0 186.9 C780.4 187.2 783.0 189.8 783.8 190.0 C784.5 190.2 787.1 189.4 787.5 188.8 C787.9 188.1 787.0 184.7 787.5 183.8 C788.0 182.8 791.3 180.4 792.5 180.0 C793.7 179.6 797.4 179.7 798.8 180.0 C800.1 180.3 803.7 182.0 805.0 182.5 C806.3 183.0 810.0 184.9 811.2 185.0 C812.5 185.1 815.2 183.5 816.2 183.1 C817.3 182.8 820.0 181.8 821.2 181.9 C822.5 181.9 826.8 183.6 827.5 183.8 M780.0 186.9 C780.1 187.5 780.9 191.4 781.2 192.5 C781.6 193.6 782.8 196.7 783.8 197.5 C784.7 198.3 789.1 199.1 790.0 200.0 C790.9 200.9 792.1 205.3 791.9 206.2 C791.6 207.2 788.2 207.9 787.5 208.8 C786.8 209.6 785.4 212.8 785.6 213.8 C785.9 214.7 789.4 216.6 790.0 217.5 C790.6 218.4 790.7 221.4 791.2 222.5 C791.8 223.6 794.9 226.8 795.0 227.5 C795.1 228.2 792.8 229.2 792.5 229.4 M791.9 206.2 C792.3 205.8 795.1 202.3 796.2 201.9 C797.4 201.5 801.2 202.3 802.5 202.5 C803.8 202.7 808.1 202.9 808.8 203.8 C809.4 204.6 808.8 209.1 808.1 210.0 C807.5 210.9 803.2 211.8 802.5 212.5 C801.8 213.2 801.0 215.4 801.2 216.2 C801.5 217.1 804.1 219.1 805.0 220.0 C805.9 220.9 808.9 224.5 810.0 225.0 C811.1 225.5 813.9 224.7 815.0 225.0 C816.1 225.3 818.9 227.0 820.0 227.5 C821.1 228.0 824.5 229.2 825.0 229.4 M821.2 210.0 C821.4 210.8 822.1 215.4 822.5 217.5 C822.9 219.6 824.7 228.1 825.0 229.4 M821.2 210.0 L826.9 208.8 M815.0 225.0 C815.1 225.7 816.4 230.2 816.2 231.2 C816.1 232.3 813.6 234.1 813.8 235.0 C813.9 235.9 816.8 238.8 817.5 240.0 C818.2 241.2 819.2 245.7 820.0 246.2 C820.8 246.8 824.2 245.0 825.0 245.0 C825.8 245.0 827.2 246.1 827.5 246.2 M740.0 186.2 C740.8 186.3 746.0 186.7 747.5 186.9 C749.0 187.1 752.9 187.5 753.8 188.1 C754.6 188.7 755.5 191.6 755.6 192.5 C755.8 193.4 755.6 195.7 755.0 196.2 C754.4 196.8 750.6 197.3 750.0 198.1 C749.4 198.9 749.6 202.5 749.4 203.8 C749.1 205.0 748.5 209.2 747.5 210.0 C746.5 210.8 740.8 211.1 740.0 211.2 M747.5 210.0 C748.0 210.5 751.3 214.1 752.5 215.0 C753.7 215.9 757.4 218.0 758.8 218.8 C760.1 219.5 763.7 221.4 765.0 221.9 C766.3 222.3 769.8 222.9 771.2 223.1 C772.7 223.3 777.1 223.3 778.8 223.8 C780.4 224.2 784.8 226.9 786.2 227.5 C787.7 228.1 791.8 229.2 792.5 229.4 M740.0 227.5 C740.8 227.8 745.9 229.5 747.5 230.0 C749.1 230.5 753.4 231.9 755.0 231.9 C756.6 231.9 761.3 230.5 762.5 230.0 C763.7 229.5 766.0 228.4 766.2 227.5 C766.5 226.6 765.1 222.5 765.0 221.9 M766.2 227.5 C766.6 227.8 768.9 229.7 770.0 230.0 C771.1 230.3 774.9 230.7 776.2 230.6 C777.6 230.6 780.8 229.5 782.5 229.4 C784.2 229.2 791.4 229.4 792.5 229.4 M776.2 230.6 C776.2 231.1 775.9 234.0 776.2 235.0 C776.6 236.0 779.1 239.2 780.0 240.0 C780.9 240.8 783.7 242.5 785.0 242.5 C786.3 242.5 791.3 240.0 792.5 240.0 C793.7 240.0 795.6 241.7 796.2 242.5 C796.9 243.3 798.1 246.7 798.8 247.5 C799.4 248.3 802.1 249.7 802.5 250.0 M780.0 240.0 C779.9 240.5 778.8 243.9 778.8 245.0 C778.8 246.1 779.9 249.5 780.0 250.0 M630.0 265.0 C630.4 263.9 632.8 256.5 633.8 255.0 C634.7 253.5 637.8 250.7 638.8 251.2 C639.7 251.8 642.4 258.3 642.5 260.0 C642.6 261.7 639.7 266.0 640.0 267.5 C640.3 269.0 643.4 273.2 645.0 273.8 C646.6 274.3 652.6 272.1 655.0 272.5 C657.4 272.9 664.8 276.6 667.5 277.5 C670.2 278.4 678.4 281.5 680.0 281.2 C681.6 281.0 681.4 275.9 682.5 275.0 C683.6 274.1 688.1 272.2 690.0 272.5 C691.9 272.8 697.3 276.7 700.0 277.5 C702.7 278.3 711.8 279.6 715.0 280.0 C718.2 280.4 727.3 281.2 730.0 281.2 C732.7 281.2 738.9 280.1 740.0 280.0 M630.0 265.0 C630.1 263.4 630.9 252.7 631.2 250.0 C631.6 247.3 633.5 241.1 633.8 240.0 M640.0 267.5 C639.7 269.4 637.6 281.3 637.5 285.0 C637.4 288.7 637.8 299.0 638.8 302.5 C639.7 306.0 644.0 315.5 646.2 317.5 C648.5 319.5 656.4 319.9 660.0 321.2 C663.6 322.6 676.0 328.4 680.0 330.0 C684.0 331.6 695.0 335.4 697.5 336.2 C700.0 337.1 703.1 338.4 703.8 337.5 C704.4 336.6 703.8 328.6 703.8 327.5 M660.0 321.2 C660.7 322.7 666.0 331.9 666.2 335.0 C666.5 338.1 663.7 346.8 662.5 350.0 C661.3 353.2 655.5 362.9 655.0 365.0 C654.5 367.1 657.2 369.5 657.5 370.0 M700.0 336.2 C699.7 337.7 698.3 346.9 697.5 350.0 C696.7 353.1 693.3 362.3 692.5 365.0 C691.7 367.7 689.7 373.1 690.0 375.0 C690.3 376.9 694.5 381.7 695.0 382.5 M657.5 370.0 C658.0 371.1 662.2 378.1 662.5 380.0 C662.8 381.9 659.2 386.2 660.0 387.5 C660.8 388.8 667.9 392.2 670.0 392.5 C672.1 392.8 677.9 391.1 680.0 390.0 C682.1 388.9 688.4 383.3 690.0 382.5 C691.6 381.7 694.5 382.5 695.0 382.5 M625.0 370.0 C626.3 370.1 634.3 371.5 637.5 371.2 C640.7 371.0 653.1 367.9 655.0 367.5 M615.0 340.0 C616.3 339.2 624.2 334.9 627.5 332.5 C630.8 330.1 644.2 319.1 646.2 317.5 M657.5 370.0 C657.8 371.1 660.5 377.9 660.0 380.0 C659.5 382.1 654.1 387.9 652.5 390.0 C650.9 392.1 646.6 398.4 645.0 400.0 C643.4 401.6 638.6 403.7 637.5 405.0 C636.4 406.3 635.3 411.7 635.0 412.5 M660.0 387.5 C660.3 388.8 662.5 397.6 662.5 400.0 C662.5 402.4 660.0 407.9 660.0 410.0 C660.0 412.1 662.2 418.9 662.5 420.0 M670.0 392.5 C671.1 393.3 677.3 399.7 680.0 400.0 C682.7 400.3 691.8 395.0 695.0 395.0 C698.2 395.0 707.3 398.4 710.0 400.0 C712.7 401.6 718.9 408.9 720.0 410.0 M695.0 382.5 C696.1 383.8 702.3 392.1 705.0 395.0 C707.7 397.9 718.4 408.4 720.0 410.0 M720.0 410.0 C721.1 410.5 727.9 414.7 730.0 415.0 C732.1 415.3 737.9 412.5 740.0 412.5 C742.1 412.5 747.9 414.2 750.0 415.0 C752.1 415.8 758.9 419.5 760.0 420.0 M750.0 380.0 C751.1 380.5 757.9 383.9 760.0 385.0 C762.1 386.1 768.9 389.5 770.0 390.0 M635.0 420.0 C634.9 421.6 633.2 432.1 633.8 435.0 C634.3 437.9 638.5 445.1 640.0 447.5 C641.5 449.9 646.4 455.5 647.5 457.5 C648.6 459.5 649.2 463.6 650.0 466.2 C650.8 468.9 654.7 478.9 655.0 482.5 C655.3 486.1 653.3 496.8 652.5 500.0 C651.7 503.2 648.2 510.1 647.5 512.5 C646.8 514.9 645.7 519.8 646.2 522.5 C646.8 525.2 651.0 534.0 652.5 537.5 C654.0 541.0 658.7 551.5 660.0 555.0 C661.3 558.5 664.2 567.3 665.0 570.0 C665.8 572.7 666.7 577.6 667.5 580.0 C668.3 582.4 671.4 590.4 672.5 592.5 C673.6 594.6 677.0 599.2 677.5 600.0 M770.0 465.0 C770.3 466.3 772.4 474.6 772.5 477.5 C772.6 480.4 771.2 489.3 771.2 492.5 C771.2 495.7 773.2 504.6 772.5 507.5 C771.8 510.4 766.9 517.9 765.0 520.0 C763.1 522.1 756.9 525.6 755.0 527.5 C753.1 529.4 748.6 535.1 747.5 537.5 C746.4 539.9 745.8 547.3 745.0 550.0 C744.2 552.7 741.1 559.8 740.0 562.5 C738.9 565.2 736.3 572.3 735.0 575.0 C733.7 577.7 729.1 585.1 727.5 587.5 C725.9 589.9 720.8 596.4 720.0 597.5 M650.0 466.2 C651.9 466.2 665.1 465.4 667.5 466.2 C669.9 467.1 670.9 473.2 672.5 473.8 C674.1 474.3 680.6 471.2 682.5 471.2 C684.4 471.2 688.9 471.8 690.0 473.8 C691.1 475.8 691.4 488.0 692.5 490.0 C693.6 492.0 699.5 491.2 700.0 492.5 C700.5 493.8 698.4 501.4 697.5 502.5 C696.6 503.6 691.8 500.6 691.2 502.5 C690.7 504.4 692.1 517.7 692.5 520.0 C692.9 522.3 696.3 523.2 695.0 523.8 C693.7 524.3 683.5 525.0 680.0 525.0 C676.5 525.0 666.1 524.0 662.5 523.8 C658.9 523.5 648.0 522.6 646.2 522.5 M700.0 492.5 C701.1 492.8 707.9 494.2 710.0 495.0 C712.1 495.8 718.4 499.2 720.0 500.0 C721.6 500.8 724.9 503.6 725.0 502.5 C725.1 501.4 721.5 492.4 721.2 490.0 C721.0 487.6 721.6 481.2 722.5 480.0 C723.4 478.8 728.1 478.4 730.0 478.8 C731.9 479.1 738.7 482.0 740.0 483.8 C741.3 485.5 742.5 492.5 742.5 495.0 C742.5 497.5 741.3 505.6 740.0 507.5 C738.7 509.4 731.6 511.6 730.0 512.5 C728.4 513.4 726.6 515.2 725.0 516.2 C723.4 517.3 716.9 521.3 715.0 522.5 C713.1 523.7 709.6 527.4 707.5 527.5 C705.4 527.6 696.3 524.1 695.0 523.8 M750.0 493.8 C751.1 493.9 757.7 495.1 760.0 495.0 C762.3 494.9 770.0 492.8 771.2 492.5 M742.5 483.8 C742.9 484.1 745.7 485.5 746.2 487.5 C746.8 489.5 746.8 499.6 747.5 502.5 C748.2 505.4 752.4 513.1 752.5 515.0 C752.6 516.9 749.5 520.5 748.8 520.0 C748.0 519.5 745.7 512.7 745.0 510.0 C744.3 507.3 742.8 496.6 742.5 495.0 M707.5 527.5 C708.6 528.8 716.2 537.9 717.5 540.0 C718.8 542.1 718.4 546.6 720.0 547.5 C721.6 548.4 730.4 549.8 732.5 548.8 C734.6 547.7 739.3 540.6 740.0 537.5 C740.7 534.4 739.8 522.3 738.8 520.0 C737.7 517.7 730.9 516.6 730.0 516.2 M687.5 527.5 C689.1 527.4 700.4 526.2 702.5 526.2 C704.6 526.2 707.0 527.4 707.5 527.5 M720.0 547.5 C718.9 548.8 711.6 558.1 710.0 560.0 C708.4 561.9 706.6 564.6 705.0 565.0 C703.4 565.4 696.9 563.2 695.0 563.8 C693.1 564.3 688.7 570.1 687.5 570.0 C686.3 569.9 684.0 565.2 683.8 562.5 C683.5 559.8 684.6 548.7 685.0 545.0 C685.4 541.3 687.2 529.4 687.5 527.5 M683.8 562.5 C683.6 564.1 683.4 575.6 682.5 577.5 C681.6 579.4 676.6 579.9 675.0 580.0 C673.4 580.1 668.3 578.9 667.5 578.8 M732.5 548.8 C732.8 550.2 734.9 560.0 735.0 562.5 C735.1 565.0 733.9 571.4 733.8 572.5 M815.0 497.5 C815.9 498.0 816.6 506.8 816.2 510.0 C815.9 513.2 812.5 523.8 811.2 527.5 C810.0 531.2 806.2 541.5 805.0 545.0 C803.8 548.5 801.3 558.0 800.0 560.0 C798.7 562.0 794.1 563.8 792.5 563.8 C790.9 563.8 785.9 561.7 785.0 560.0 C784.1 558.3 783.5 550.4 783.8 547.5 C784.0 544.6 786.8 535.7 787.5 532.5 C788.2 529.3 788.7 519.6 790.0 517.5 C791.3 515.4 798.1 513.8 800.0 512.5 C801.9 511.2 805.9 506.6 807.5 505.0 C809.1 503.4 814.1 497.0 815.0 497.5 M635.0 420.0 C637.1 420.5 652.3 423.4 655.0 425.0 C657.7 426.6 659.7 432.9 660.0 435.0 C660.3 437.1 657.0 443.7 657.5 445.0 C658.0 446.3 664.1 446.2 665.0 447.5 C665.9 448.8 667.3 456.2 666.2 457.5 C665.2 458.8 656.9 460.0 655.0 460.0 C653.1 460.0 649.4 457.8 648.8 457.5 M675.0 420.0 C674.9 421.3 674.5 429.8 673.8 432.5 C673.0 435.2 668.3 442.3 667.5 445.0 C666.7 447.7 666.4 456.2 666.2 457.5 M730.0 420.0 C729.7 421.3 728.0 429.6 727.5 432.5 C727.0 435.4 725.0 444.0 725.0 447.5 C725.0 451.0 727.0 461.7 727.5 465.0 C728.0 468.3 729.7 477.3 730.0 478.8 M735.0 440.0 C735.3 438.7 740.9 435.1 742.5 435.0 C744.1 434.9 749.5 437.7 750.0 438.8 C750.5 439.8 748.6 444.1 747.5 445.0 C746.4 445.9 741.3 448.0 740.0 447.5 C738.7 447.0 734.7 441.3 735.0 440.0 M750.0 438.8 C751.6 439.9 762.9 447.2 765.0 450.0 C767.1 452.8 769.5 463.4 770.0 465.0 M730.0 430.0 C731.1 429.7 737.9 428.0 740.0 427.5 C742.1 427.0 748.9 425.3 750.0 425.0 M727.5 447.5 L735.0 445.0 M740.0 447.5 C740.3 449.4 742.2 461.1 742.5 465.0 C742.8 468.9 742.5 481.8 742.5 483.8 M770.0 465.0 C770.8 463.7 775.9 455.2 777.5 452.5 C779.1 449.8 783.7 442.4 785.0 440.0 C786.3 437.6 789.2 432.1 790.0 430.0 C790.8 427.9 792.2 421.1 792.5 420.0 M750.0 425.0 L760.0 420.0 M660.0 560.0 C660.2 561.2 661.3 569.0 662.2 571.1 C663.2 573.2 667.9 577.9 668.9 580.0 C669.8 582.1 670.4 588.5 671.1 591.1 C671.8 593.7 674.4 602.4 675.6 604.4 C676.7 606.5 680.1 609.6 682.2 610.0 C684.4 610.4 692.7 608.4 695.6 607.8 C698.4 607.2 706.5 605.3 708.9 604.4 C711.3 603.6 715.9 601.4 717.8 600.0 C719.7 598.6 725.0 593.2 726.7 591.1 C728.3 589.0 732.1 582.4 733.3 580.0 C734.5 577.6 737.1 571.0 737.8 568.9 C738.5 566.8 739.8 560.9 740.0 560.0 M711.1 584.4 C711.2 583.1 714.5 579.1 715.6 578.9 C716.6 578.7 720.6 581.3 721.1 582.2 C721.6 583.2 720.7 586.8 720.0 587.8 C719.3 588.7 715.4 591.5 714.4 591.1 C713.5 590.8 711.0 585.7 711.1 584.4 M668.9 580.0 C669.8 580.1 676.2 581.6 677.8 581.1 C679.3 580.6 682.6 577.3 683.3 575.6 C684.0 573.8 683.6 565.2 684.4 564.4 C685.3 563.7 689.5 568.9 691.1 568.9 C692.8 568.9 698.1 565.4 700.0 564.4 C701.9 563.5 707.9 560.5 708.9 560.0 M606.7 403.3 C607.9 404.2 615.7 410.6 618.3 411.7 C621.0 412.7 629.9 412.8 631.7 413.3 C633.4 413.9 634.3 415.4 635.0 416.7 C635.7 417.9 638.3 422.7 638.3 425.0 C638.3 427.3 635.2 436.0 635.0 438.3 C634.8 440.6 636.3 445.4 636.7 446.7 C637.0 447.9 638.2 449.6 638.3 450.0 M633.3 413.3 C633.9 412.3 636.7 405.1 638.3 403.3 C639.9 401.6 646.4 399.2 648.3 396.7 C650.3 394.2 655.9 382.8 656.7 380.0 C657.5 377.2 655.9 371.1 655.8 370.0 M623.3 370.0 C624.6 370.2 632.5 371.7 635.0 371.7 C637.5 371.7 644.4 370.4 646.7 370.0 C648.9 369.6 654.9 368.5 655.8 368.3 M616.7 368.3 C616.0 369.4 611.1 374.6 610.0 378.3 C608.9 382.1 607.0 400.7 606.7 403.3 M603.3 385.0 L604.2 405.0 M655.8 368.3 C656.3 369.2 659.7 374.7 660.0 376.7 C660.3 378.6 658.0 384.5 658.3 386.7 C658.7 388.8 663.2 394.4 663.3 396.7 C663.5 399.0 660.0 405.8 660.0 408.3 C660.0 410.8 662.6 418.0 663.3 420.0 C664.0 422.0 666.3 426.0 666.7 426.7 M695.0 380.0 C695.7 381.4 699.9 390.8 701.7 393.3 C703.4 395.8 710.1 401.6 711.7 403.3 C713.3 405.1 716.1 409.3 716.7 410.0 M716.7 410.0 C715.2 410.2 705.8 411.1 703.3 411.7 C700.8 412.2 695.8 415.0 693.3 415.0 C690.8 415.0 681.8 411.1 680.0 411.7 C678.2 412.2 678.1 418.4 676.7 420.0 C675.2 421.6 667.7 426.0 666.7 426.7 M676.7 420.0 C676.5 421.4 675.9 430.5 675.0 433.3 C674.1 436.2 669.0 445.2 668.3 446.7 M638.3 425.0 C639.8 425.1 649.5 425.8 651.7 425.8 C653.8 425.8 656.7 424.9 658.3 425.0 C659.9 425.1 665.8 426.5 666.7 426.7 M653.3 425.8 C653.7 427.0 656.7 434.4 656.7 436.7 C656.7 438.9 654.6 445.2 653.3 446.7 C652.1 448.1 645.9 449.6 645.0 450.0 M690.0 386.7 C688.9 387.4 682.8 392.3 680.0 393.3 C677.2 394.4 665.1 396.3 663.3 396.7 M855.9 86.7 C856.1 85.9 855.8 80.7 857.7 79.5 C859.6 78.4 871.0 76.9 873.9 75.9 C876.8 75.0 881.2 71.5 884.7 70.5 C888.1 69.6 901.6 66.9 906.2 66.9 C910.8 66.9 924.0 69.8 927.8 70.5 C931.6 71.3 941.0 73.0 942.2 74.1 C943.3 75.3 937.0 80.4 938.6 81.3 C940.1 82.3 952.7 83.1 956.5 83.1 C960.4 83.1 971.1 81.1 974.5 81.3 C978.0 81.5 985.4 84.1 988.9 84.9 C992.3 85.7 1003.4 87.6 1006.8 88.5 C1010.3 89.5 1018.2 94.1 1021.2 93.9 C1024.3 93.7 1031.8 87.3 1035.6 86.7 C1039.4 86.1 1052.6 88.1 1057.2 88.5 C1061.8 88.9 1073.3 89.7 1078.7 90.3 C1084.1 90.9 1101.7 93.1 1107.5 93.9 C1113.2 94.7 1128.0 96.9 1132.6 97.5 C1137.2 98.1 1147.9 99.3 1150.6 99.3 C1153.3 99.3 1155.5 97.3 1157.8 97.5 C1160.1 97.7 1168.3 100.1 1172.1 101.1 C1176.0 102.0 1189.1 105.5 1193.7 106.5 C1198.3 107.4 1211.0 109.3 1215.3 110.1 C1219.5 110.8 1231.3 113.3 1233.2 113.7 M780.0 101.5 C781.1 101.6 787.9 102.0 790.0 102.0 C792.1 102.0 797.5 102.3 800.0 101.7 C802.5 101.1 810.8 96.9 813.3 96.7 C815.8 96.5 821.7 99.3 823.3 100.0 C824.9 100.7 828.2 103.6 828.3 103.3 C828.4 103.0 824.9 98.2 824.0 97.0 C823.1 95.8 820.1 93.0 820.0 91.7 C819.9 90.4 822.2 85.9 823.3 85.0 C824.4 84.1 828.6 82.8 830.0 83.3 C831.4 83.8 835.8 88.6 836.7 90.0 C837.6 91.4 837.6 95.6 838.3 96.7 C839.0 97.8 842.4 98.4 843.3 100.0 C844.2 101.6 847.1 110.6 846.7 111.7 C846.3 112.8 840.4 111.1 840.0 110.0 C839.6 108.9 842.6 103.5 843.3 101.7 C844.0 99.9 846.7 94.7 846.7 93.3 C846.7 91.9 842.2 89.4 843.3 88.3 C844.4 87.2 855.3 83.8 856.7 83.3 M701.7 277.5 C701.8 279.4 703.0 289.8 703.3 295.0 C703.7 300.2 704.9 322.2 705.0 326.7 C705.1 331.1 704.3 335.6 704.2 336.7 M705.0 326.7 C706.8 326.7 718.5 326.8 721.7 326.7 C724.9 326.6 732.5 325.7 735.0 325.8 C737.5 325.9 743.2 327.9 745.0 327.5 C746.8 327.1 751.0 322.3 751.7 321.7 M735.0 288.3 C735.5 289.2 738.9 294.5 740.0 296.7 C741.1 298.8 743.8 305.7 745.0 308.3 C746.2 311.0 750.2 319.0 751.7 321.7 C753.1 324.3 757.3 331.0 758.3 333.3 C759.4 335.6 761.1 341.7 761.7 343.3 C762.2 344.9 763.2 347.8 763.3 348.3 M741.7 280.0 C741.8 280.9 742.8 286.7 743.3 288.3 C743.9 289.9 746.7 294.6 746.7 295.0 C746.7 295.4 744.2 292.6 743.3 291.7 C742.4 290.8 739.2 287.0 738.3 286.7 C737.4 286.3 735.4 288.2 735.0 288.3 M746.7 295.0 C747.2 295.9 750.6 301.2 751.7 303.3 C752.7 305.5 756.0 313.2 756.7 315.0 C757.4 316.8 757.4 318.4 758.3 320.0 C759.2 321.6 763.8 328.2 765.0 330.0 C766.2 331.8 768.9 335.4 770.0 336.7 C771.1 337.9 774.5 341.1 775.0 341.7 M741.7 280.0 C742.0 279.5 744.5 276.1 745.0 275.0 C745.5 273.9 746.5 270.5 746.7 270.0 M746.7 295.0 C746.8 294.5 747.4 291.1 748.3 290.0 C749.2 288.9 753.9 286.1 755.0 285.0 C756.1 283.9 758.3 280.9 758.3 280.0 C758.3 279.1 754.6 277.4 755.0 276.7 C755.4 276.0 760.8 274.0 761.7 273.3 C762.6 272.6 763.2 270.4 763.3 270.0 M755.0 285.0 C755.9 284.1 761.6 277.4 763.3 276.7 C765.1 276.0 769.9 277.6 771.7 278.3 C773.4 279.0 778.2 282.3 780.0 283.3 C781.8 284.4 786.6 287.4 788.3 288.3 C790.1 289.2 795.1 291.1 796.7 291.7 C798.3 292.2 802.6 293.2 803.3 293.3 M803.3 293.3 C803.3 292.6 802.8 287.5 803.3 286.7 C803.9 285.9 807.4 285.5 808.3 285.8 C809.2 286.2 811.0 289.0 811.7 290.0 C812.4 291.0 814.3 293.9 815.0 295.0 C815.7 296.1 817.4 299.3 818.3 300.0 C819.2 300.7 822.8 301.5 823.3 301.7 M793.3 270.0 C793.9 270.5 797.6 273.8 798.3 275.0 C799.0 276.2 799.5 280.4 800.0 281.7 C800.5 282.9 803.0 286.1 803.3 286.7 M808.3 285.8 C808.9 287.0 813.0 294.6 813.3 296.7 C813.7 298.7 811.1 303.9 811.7 305.0 C812.2 306.1 816.9 306.1 818.3 306.7 C819.8 307.2 824.3 309.6 825.0 310.0 M704.2 336.7 C703.7 336.8 700.6 337.1 700.0 338.3 C699.4 339.6 699.0 345.7 698.3 348.3 C697.6 351.0 694.0 360.7 693.3 363.3 C692.6 366.0 691.3 371.2 691.7 373.3 C692.0 375.5 695.8 381.6 696.7 383.3 C697.6 385.1 699.6 389.3 700.0 390.0 M680.0 328.3 C681.1 328.9 688.0 332.4 690.0 333.3 C692.0 334.2 696.8 336.3 698.3 336.7 C699.8 337.0 703.5 336.7 704.2 336.7 M763.3 348.3 C762.8 349.2 759.2 355.1 758.3 356.7 C757.4 358.3 755.5 361.6 755.0 363.3 C754.5 365.1 753.9 371.2 753.3 373.3 C752.8 375.5 750.7 381.6 750.0 383.3 C749.3 385.1 747.0 389.3 746.7 390.0 M758.3 333.3 C758.9 334.4 762.4 341.7 763.3 343.3 C764.2 344.9 766.3 347.8 766.7 348.3 M700.0 390.0 C700.9 390.9 706.7 396.4 708.3 398.3 C709.9 400.3 713.8 406.6 715.0 408.3 C716.2 410.1 718.6 414.3 720.0 415.0 C721.4 415.7 726.7 414.6 728.3 415.0 C729.9 415.4 733.4 418.2 735.0 418.3 C736.6 418.5 742.4 416.8 743.3 416.7 M680.0 410.0 C681.1 410.5 687.9 414.8 690.0 415.0 C692.1 415.2 697.3 412.2 700.0 411.7 C702.7 411.1 713.4 410.2 715.0 410.0 M733.3 420.0 C733.0 421.1 730.7 428.2 730.0 430.0 C729.3 431.8 727.2 435.1 726.7 436.7 C726.1 438.3 725.2 444.1 725.0 445.0 M746.7 435.0 C747.0 434.5 749.8 431.1 750.0 430.0 C750.2 428.9 748.5 425.5 748.3 425.0 M748.3 440.0 C748.9 440.4 752.3 442.5 753.3 443.3 C754.4 444.1 757.8 447.1 758.3 447.5 M775.0 251.2 C775.5 252.2 778.4 258.0 780.0 260.0 C781.6 262.0 788.5 268.8 790.0 270.0 C791.5 271.2 793.4 271.1 793.8 271.2 M745.0 255.0 C745.5 256.1 748.4 263.4 750.0 265.0 C751.6 266.6 757.3 270.3 760.0 270.0 C762.7 269.7 772.9 263.6 775.0 262.5 C777.1 261.4 779.5 260.3 780.0 260.0 M760.0 270.0 C759.5 270.8 755.4 275.9 755.0 277.5 C754.6 279.1 756.1 284.2 756.2 285.0 M745.0 255.0 C744.7 256.1 743.0 262.6 742.5 265.0 C742.0 267.4 740.7 275.2 740.0 277.5 C739.3 279.8 736.6 285.3 736.2 286.2 M780.0 235.0 C781.1 235.8 787.9 240.9 790.0 242.5 C792.1 244.1 797.6 249.5 800.0 250.0 C802.4 250.5 809.7 248.0 812.5 247.5 C815.3 247.0 824.8 245.3 826.2 245.0 M730.0 250.0 C730.1 249.7 735.7 248.5 736.2 248.8 C736.8 249.0 735.7 251.9 735.0 252.0 C734.3 252.1 729.9 250.3 730.0 250.0"/></g>
<!--/MAP-->
</svg>
<div class="abs" id="leftpanel"></div>
<div class="abs" id="title">Dextromethorphan Market - 2025 to 2032</div>
<div class="abs" id="sub1">Global Market Size, 2025 and 2032</div>
<div class="abs" id="sub2">(USD Million)</div>
<svg class="abs" style="left:0;top:0" width="1280" height="720" viewBox="0 0 1280 720">
<g stroke="#d3dadd" stroke-width="1"><path d="M120 307.4H576M120 352.1H576M120 396.7H576M120 441.4H576M120 486.2H576M120 531.2H576"/></g>
<rect x="105.55" y="292.6" width="485.85" height="276.7" fill="none" stroke="#000" stroke-width="1.25"/>
</svg>
<div class="abs bar" style="left:178px;top:432px;width:112px;height:99px;background:#0780b3"></div>
<div class="abs bar" style="left:406px;top:332px;width:113px;height:199px;background:#183c4d"></div>
<div class="abs val" style="left:165px;top:392px">1,284.56</div>
<div class="abs val" style="left:393px;top:298px">1,689.23</div>
<div class="abs cat" style="left:185px;top:544px">2025</div>
<div class="abs cat" style="left:413.5px;top:544px">2032</div>
<svg class="abs" style="left:0;top:0" width="1280" height="720" viewBox="0 0 1280 720">
<defs>
<linearGradient id="pb" x1="0" y1="0" x2="0" y2="1"><stop offset="0" stop-color="#b3d4df"/><stop offset="0.6" stop-color="#cfe5ee"/><stop offset="1" stop-color="#e0eff7"/></linearGradient>

</defs>
<rect x="829" y="114" width="444.5" height="604" rx="38" ry="38" fill="#e0eff7" stroke="url(#pb)" stroke-width="2"/>
<circle cx="834" cy="405" r="85.5" fill="#183d4d" stroke="#fff" stroke-width="6"/>
</svg>
<svg class="abs" style="left:1036px;top:28px" width="44" height="44" viewBox="1036 28 44 44">
<path d="M1050.75 60.87 A13.1 13.1 0 1 0 1045.56 55.85" fill="none" stroke="#4f667a" stroke-width="3.8"/>
<path d="M1041.9 50 L1042 64.7 L1049.3 58.2 L1046 52 Z" fill="#4f667a"/>
<rect x="1048.4" y="49.3" width="3.9" height="11.2" fill="#22a9d1"/>
<rect x="1055" y="44" width="4" height="18" fill="#22a9d1"/>
<rect x="1062.3" y="38.6" width="3" height="23" fill="#4f667a"/>
</svg>
<div class="abs" id="lg1"><span style="color:#35b2cd">Credence</span> <span style="color:#5f7282">Research</span></div>
<div class="abs" id="lg2">Actionable Insights Delivered</div>
<div class="abs" id="cagr1">CAGR</div>
<div class="abs" id="cagr2">4.67%</div>
<div class="abs" id="seg">
<b>Market Segment</b><b>&nbsp;</b>
<b>By Formulation</b><span><i>•</i>Syrups</span><span><i>•</i>Tablets</span><span><i>•</i>Capsules</span>
<b>By Combination Type</b><span><i>•</i>Single-ingredient</span><span><i>•</i>Multi-ingredient</span>
<b>By Dosage Strength</b><span><i>•</i>Low-dose</span><span><i>•</i>Standard-dose</span>
<b>By Indication</b><span><i>•</i>Cough Suppression</span><span><i>•</i>Cold &amp; Flu</span>
<b>By Distribution Channel</b><span><i>•</i>Retail Pharmacy</span><span><i>•</i>Online</span>
</div>
</body></html>
